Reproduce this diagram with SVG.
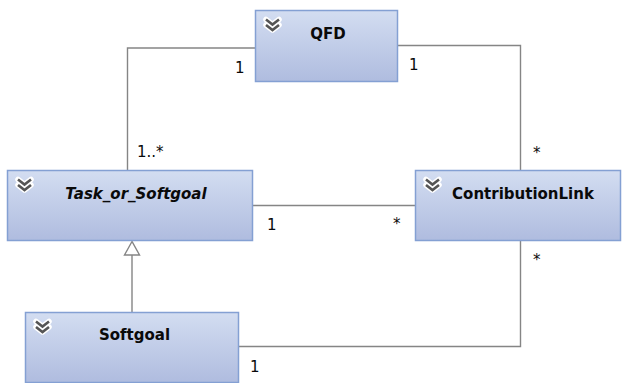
<svg xmlns="http://www.w3.org/2000/svg" width="623" height="383" viewBox="0 0 623 383">
  <defs>
    <linearGradient id="boxFill" x1="0" y1="0" x2="0" y2="1">
      <stop offset="0" stop-color="#d3ddf1"/>
      <stop offset="1" stop-color="#afbcdf"/>
    </linearGradient>
    <!-- collapse/expand double chevron shown in each class header -->
    <g id="chevron">
      <path d="M-6.5 0 L0 5 L6.5 0 M-6.5 5.5 L0 10.5 L6.5 5.5" fill="none" stroke="#ffffff" stroke-width="5.5" stroke-linejoin="round" stroke-linecap="round"/>
      <path d="M-6.5 0 L0 5 L6.5 0 M-6.5 5.5 L0 10.5 L6.5 5.5" fill="none" stroke="#555555" stroke-width="2.6" stroke-linejoin="miter"/>
    </g>
  </defs>
  <style>
    .box { fill: url(#boxFill); stroke: #84a0d3; stroke-width: 1.5; }
    .name { font-family: "DejaVu Sans", Verdana, sans-serif; font-weight: bold; font-size: 15px; fill: #0a0a0a; text-anchor: middle; }
    .abstract { font-style: italic; }
    .mult { font-family: "DejaVu Sans", Verdana, sans-serif; font-size: 15px; fill: #0a0a0a; }
    .conn { fill: none; stroke: #858585; stroke-width: 1.4; }
  </style>

  <rect x="0" y="0" width="623" height="383" fill="#ffffff"/>

  <!-- associations and generalization -->
  <g id="connectors">
    <path class="conn" d="M255 48 H127.5 V170"/>
    <path class="conn" d="M397 45.5 H520.5 V170"/>
    <path class="conn" d="M252 205.5 H415"/>
    <path class="conn" d="M238 346.5 H520.5 V241"/>
    <path class="conn" d="M132 312 V255"/>
    <polygon points="132,241.5 124.5,255 139.5,255" fill="#ffffff" stroke="#858585" stroke-width="1.4"/>
    <text class="mult" x="235" y="73">1</text>
    <text class="mult" x="137" y="157">1..*</text>
    <text class="mult" x="409" y="70">1</text>
    <text class="mult" x="533" y="158">*</text>
    <text class="mult" x="267" y="230">1</text>
    <text class="mult" x="393" y="229">*</text>
    <text class="mult" x="533" y="265">*</text>
    <text class="mult" x="250" y="372">1</text>
  </g>

  <g id="QFD">
    <rect class="box" x="255.5" y="10.5" width="142" height="71"/>
    <use href="#chevron" x="272.5" y="19.5"/>
    <text class="name" x="328" y="38.5">QFD</text>
  </g>

  <g id="Task_or_Softgoal">
    <rect class="box" x="7.5" y="170.5" width="245" height="70"/>
    <use href="#chevron" x="24.5" y="179.5"/>
    <text class="name abstract" x="136" y="198.5">Task_or_Softgoal</text>
  </g>

  <g id="ContributionLink">
    <rect class="box" x="415.5" y="170.5" width="205" height="70"/>
    <use href="#chevron" x="432.5" y="179.5"/>
    <text class="name" x="523" y="198.5">ContributionLink</text>
  </g>

  <g id="Softgoal">
    <rect class="box" x="25.5" y="312.5" width="213" height="70"/>
    <use href="#chevron" x="42.5" y="321.5"/>
    <text class="name" x="134.5" y="339.5">Softgoal</text>
  </g>
</svg>
